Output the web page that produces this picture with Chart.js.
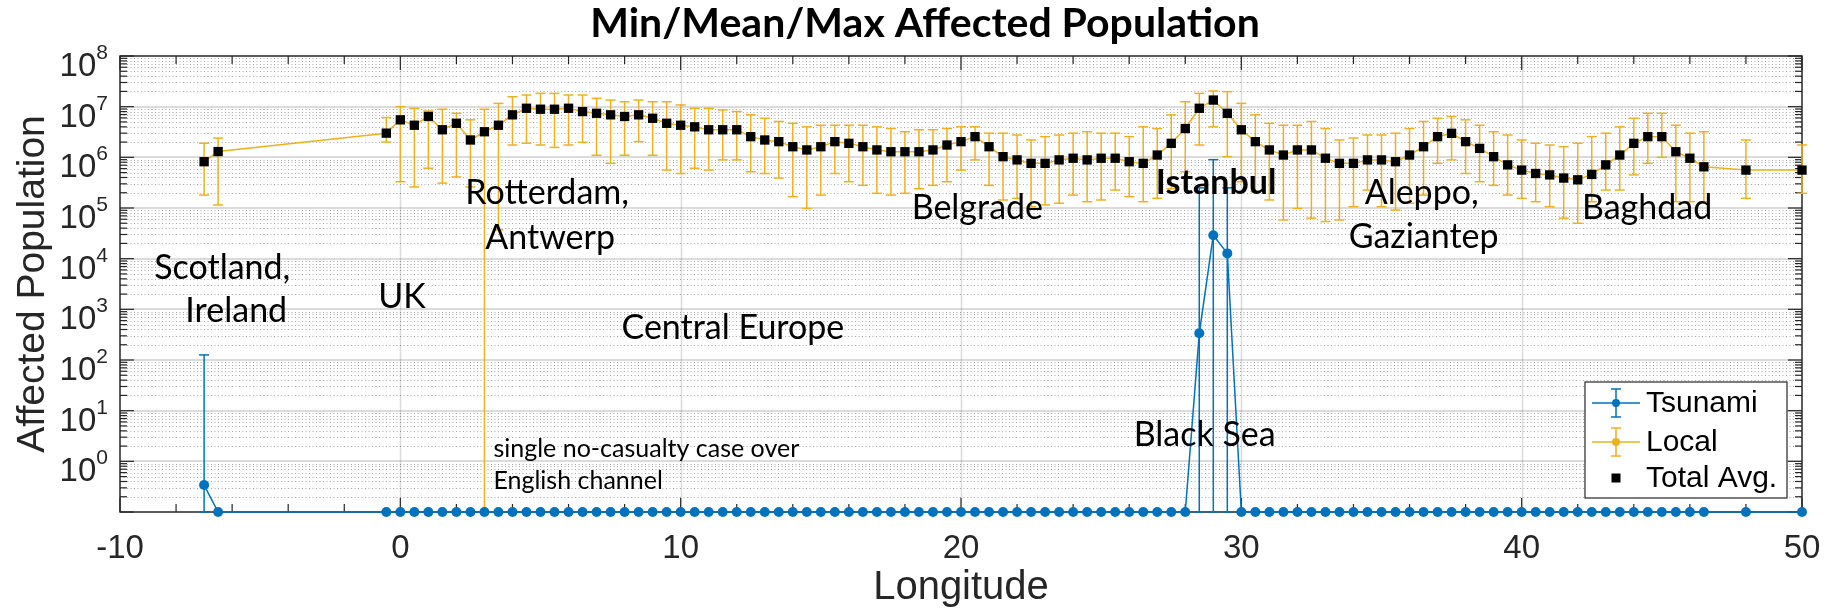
<!DOCTYPE html>
<html>
<head>
<meta charset="utf-8">
<script src="https://cdn.jsdelivr.net/npm/chart.js@4.4.1/dist/chart.umd.min.js"></script>
<style>
html,body{margin:0;padding:0;background:#ffffff;}
#wrap{width:1826px;height:610px;position:relative;}
</style>
</head>
<body>
<div id="wrap"><canvas id="c"></canvas></div>
<script>
// ---------------- DATA ----------------
const longitudes = [-7, -6.5, -0.5, 0, 0.5, 1, 1.5, 2, 2.5, 3, 3.5, 4, 4.5, 5, 5.5, 6, 6.5, 7, 7.5, 8, 8.5, 9, 9.5, 10,
  10.5, 11, 11.5, 12, 12.5, 13, 13.5, 14, 14.5, 15, 15.5, 16, 16.5, 17, 17.5, 18, 18.5, 19, 19.5, 20, 20.5, 21, 21.5, 22,
  22.5, 23, 23.5, 24, 24.5, 25, 25.5, 26, 26.5, 27, 27.5, 28, 28.5, 29, 29.5, 30, 30.5, 31, 31.5, 32, 32.5, 33, 33.5, 34,
  34.5, 35, 35.5, 36, 36.5, 37, 37.5, 38, 38.5, 39, 39.5, 40, 40.5, 41, 41.5, 42, 42.5, 43, 43.5, 44, 44.5, 45, 45.5, 46,
  46.5, 48, 50];

const localMean = [8.2e5, 1.3e6, 3.0e6, 5.5e6, 4.3e6, 6.4e6, 3.5e6, 4.7e6, 2.2e6, 3.2e6, 4.3e6, 6.9e6, 9.3e6, 8.9e6, 8.9e6, 9.3e6, 8.0e6, 7.4e6, 6.9e6, 6.4e6, 6.9e6, 5.9e6, 4.7e6, 4.3e6,
  4.0e6, 3.5e6, 3.5e6, 3.5e6, 2.56e6, 2.2e6, 2.04e6, 1.62e6, 1.4e6, 1.62e6, 2.04e6, 1.89e6, 1.62e6, 1.4e6, 1.29e6, 1.29e6, 1.29e6, 1.4e6, 1.75e6, 2.04e6, 2.56e6, 1.62e6, 1.03e6, 8.9e5,
  7.6e5, 7.6e5, 8.9e5, 9.6e5, 8.9e5, 9.6e5, 9.6e5, 8.2e5, 7.6e5, 1.11e6, 1.89e6, 3.7e6, 9.3e6, 1.35e7, 7.4e6, 3.5e6, 2.04e6, 1.4e6, 1.11e6, 1.4e6, 1.4e6, 9.6e5, 7.6e5, 7.6e5,
  8.9e5, 8.9e5, 8.2e5, 1.11e6, 1.62e6, 2.56e6, 2.98e6, 2.04e6, 1.5e6, 1.03e6, 7.1e5, 5.6e5, 4.8e5, 4.5e5, 3.9e5, 3.6e5, 4.6e5, 7.1e5, 1.11e6, 1.89e6, 2.56e6, 2.56e6, 1.29e6, 9.6e5,
  6.5e5, 5.6e5, 5.6e5];

const localMin = [1.8e5, 1.15e5, 2.0e6, 3.3e5, 2.6e5, 6.1e5, 3.1e5, 4.1e5, 2.6e5, 0, 3.7e4, 1.75e6, 1.9e6, 1.75e6, 1.57e6, 1.75e6, 1.98e6, 1.1e6, 7.6e5, 1.1e6, 2.04e6, 1.1e6, 5.6e5, 4.8e5,
  6.1e5, 5.6e5, 8.9e5, 8.9e5, 5.2e5, 4.8e5, 3.9e5, 1.67e5, 9.8e4, 1.8e5, 4.8e5, 3.3e5, 2.8e5, 1.95e5, 1.8e5, 1.95e5, 2.4e5, 2.8e5, 3.3e5, 5.6e5, 8.9e5, 2.8e5, 1.44e5, 1.55e5,
  1.06e5, 1.15e5, 1.24e5, 1.8e5, 1.33e5, 1.44e5, 2.26e5, 1.67e5, 1.33e5, 1.55e5, 2.4e5, 5.2e5, 1.75e6, 4.0e6, 1.03e6, 3.3e5, 2.1e5, 1.44e5, 5.8e4, 9.8e4, 6.3e4, 5.4e4, 5.8e4, 1.06e5,
  2.26e5, 1.06e5, 9.1e4, 1.24e5, 1.8e5, 7.6e5, 8.9e5, 4.8e5, 3.3e5, 2.8e5, 1.8e5, 1.55e5, 1.33e5, 1.06e5, 6.3e4, 5.0e4, 1.33e5, 2.26e5, 2.26e5, 4.5e5, 7.6e5, 1.0e6, 1.33e5, 1.33e5,
  1.33e5, 1.55e5, 1.95e5];

const localMax = [1.9e6, 2.4e6, 6.1e6, 1.0e7, 9.3e6, 8.2e6, 8.9e6, 7.4e6, 5.5e6, 8.9e6, 1.16e7, 1.57e7, 1.7e7, 1.83e7, 1.83e7, 1.7e7, 1.7e7, 1.46e7, 1.35e7, 1.25e7, 1.35e7, 1.25e7, 1.25e7, 1.08e7,
  9.3e6, 9.3e6, 8.6e6, 8.0e6, 6.9e6, 5.9e6, 5.1e6, 4.7e6, 4.0e6, 4.3e6, 4.3e6, 4.3e6, 4.3e6, 4.0e6, 3.7e6, 3.2e6, 3.5e6, 3.5e6, 3.7e6, 4.0e6, 4.0e6, 3.0e6, 3.0e6, 2.76e6,
  2.2e6, 2.56e6, 2.76e6, 3.0e6, 3.2e6, 3.0e6, 3.0e6, 2.56e6, 4.0e6, 3.7e6, 6.9e6, 1.25e7, 1.83e7, 2.04e7, 1.98e7, 1.16e7, 6.9e6, 4.7e6, 4.3e6, 4.3e6, 5.1e6, 3.7e6, 2.2e6, 2.4e6,
  2.76e6, 2.76e6, 3.0e6, 3.7e6, 5.1e6, 5.9e6, 6.4e6, 5.5e6, 4.3e6, 3.2e6, 2.76e6, 2.2e6, 1.9e6, 1.75e6, 1.62e6, 1.9e6, 2.56e6, 3.0e6, 4.0e6, 5.9e6, 7.4e6, 7.4e6, 4.3e6, 3.0e6,
  3.2e6, 2.2e6, 1.75e6];

const totalAvg = [8.2e5, 1.3e6, 3.0e6, 5.5e6, 4.3e6, 6.4e6, 3.5e6, 4.7e6, 2.2e6, 3.2e6, 4.3e6, 6.9e6, 9.3e6, 8.9e6, 8.9e6, 9.3e6, 8.0e6, 7.4e6, 6.9e6, 6.4e6, 6.9e6, 5.9e6, 4.7e6, 4.3e6,
  4.0e6, 3.5e6, 3.5e6, 3.5e6, 2.56e6, 2.2e6, 2.04e6, 1.62e6, 1.4e6, 1.62e6, 2.04e6, 1.89e6, 1.62e6, 1.4e6, 1.29e6, 1.29e6, 1.29e6, 1.4e6, 1.75e6, 2.04e6, 2.56e6, 1.62e6, 1.03e6, 8.9e5,
  7.6e5, 7.6e5, 8.9e5, 9.6e5, 8.9e5, 9.6e5, 9.6e5, 8.2e5, 7.6e5, 1.11e6, 1.89e6, 3.7e6, 9.3e6, 1.35e7, 7.4e6, 3.5e6, 2.04e6, 1.4e6, 1.11e6, 1.4e6, 1.4e6, 9.6e5, 7.6e5, 7.6e5,
  8.9e5, 8.9e5, 8.2e5, 1.11e6, 1.62e6, 2.56e6, 2.98e6, 2.04e6, 1.5e6, 1.03e6, 7.1e5, 5.6e5, 4.8e5, 4.5e5, 3.9e5, 3.6e5, 4.6e5, 7.1e5, 1.11e6, 1.89e6, 2.56e6, 2.56e6, 1.29e6, 9.6e5,
  6.5e5, 5.6e5, 5.6e5];

const tsunamiMean = [0.34, 0, 0, 0, 0, 0, 0, 0, 0, 0, 0, 0, 0, 0, 0, 0, 0, 0, 0, 0, 0, 0, 0, 0,
  0, 0, 0, 0, 0, 0, 0, 0, 0, 0, 0, 0, 0, 0, 0, 0, 0, 0, 0, 0, 0, 0, 0, 0,
  0, 0, 0, 0, 0, 0, 0, 0, 0, 0, 0, 0, 336, 2.9e4, 1.27e4, 0, 0, 0, 0, 0, 0, 0, 0, 0,
  0, 0, 0, 0, 0, 0, 0, 0, 0, 0, 0, 0, 0, 0, 0, 0, 0, 0, 0, 0, 0, 0, 0, 0,
  0, 0, 0];

const tsunamiMin = [0, 0, 0, 0, 0, 0, 0, 0, 0, 0, 0, 0, 0, 0, 0, 0, 0, 0, 0, 0, 0, 0, 0, 0,
  0, 0, 0, 0, 0, 0, 0, 0, 0, 0, 0, 0, 0, 0, 0, 0, 0, 0, 0, 0, 0, 0, 0, 0,
  0, 0, 0, 0, 0, 0, 0, 0, 0, 0, 0, 0, 0, 0, 0, 0, 0, 0, 0, 0, 0, 0, 0, 0,
  0, 0, 0, 0, 0, 0, 0, 0, 0, 0, 0, 0, 0, 0, 0, 0, 0, 0, 0, 0, 0, 0, 0, 0,
  0, 0, 0];

const tsunamiMax = [126, 0, 0, 0, 0, 0, 0, 0, 0, 0, 0, 0, 0, 0, 0, 0, 0, 0, 0, 0, 0, 0, 0, 0,
  0, 0, 0, 0, 0, 0, 0, 0, 0, 0, 0, 0, 0, 0, 0, 0, 0, 0, 0, 0, 0, 0, 0, 0,
  0, 0, 0, 0, 0, 0, 0, 0, 0, 0, 0, 0, 2.5e5, 9.0e5, 2.5e5, 0, 0, 0, 0, 0, 0, 0, 0, 0,
  0, 0, 0, 0, 0, 0, 0, 0, 0, 0, 0, 0, 0, 0, 0, 0, 0, 0, 0, 0, 0, 0, 0, 0,
  0, 0, 0];

const xTickValues = [-10, 0, 10, 20, 30, 40, 50];
const xTickLabels = ['-10', '0', '10', '20', '30', '40', '50'];
const yTickExponents = [0, 1, 2, 3, 4, 5, 6, 7, 8];
const seriesNames = ['Tsunami', 'Local', 'Total Avg.'];

// text annotations: [text, longitude, log10(value), style]
const annotations = [
  ['Scotland,', -8.78, 3.81, 'n'],
  ['Ireland', -7.67, 2.96, 'n'],
  ['UK', -0.79, 3.24, 'n'],
  ['Rotterdam,', 2.32, 5.29, 'n'],
  ['Antwerp', 3.03, 4.40, 'n'],
  ['Central Europe', 7.89, 2.64, 'n'],
  ['Belgrade', 18.24, 5.0, 'n'],
  ['Istanbul', 26.95, 5.49, 'b'],
  ['Aleppo,', 34.4, 5.29, 'n'],
  ['Gaziantep', 33.83, 4.42, 'n'],
  ['Baghdad', 42.15, 5.0, 'n'],
  ['Black Sea', 26.16, 0.52, 'n'],
  ['single no-casualty case over', 3.32, 0.25, 's'],
  ['English channel', 3.32, -0.38, 's']
];

// ---------------- STYLE ----------------
const Y_MIN = 0.1, Y_MAX = 1e8, X_MIN = -10, X_MAX = 50;
const BLUE = '#0072BD', ORANGE = '#EDB120', AXC = '#262626';
const TICKFONT = '"Liberation Sans", Arial, sans-serif';
const ANNFONT = 'Lato, "Open Sans", sans-serif';

function hline(ctx, x1, x2, y) { ctx.beginPath(); ctx.moveTo(x1, y); ctx.lineTo(x2, y); ctx.stroke(); }
function vline(ctx, x, y1, y2) { ctx.beginPath(); ctx.moveTo(x, y1); ctx.lineTo(x, y2); ctx.stroke(); }

function drawErrorBars(ctx, xs, ys, lo, hi, color) {
  ctx.save();
  ctx.strokeStyle = color; ctx.lineWidth = 1.5;
  for (let i = 0; i < lo.length; i++) {
    if (!(hi[i] > lo[i])) continue;
    const px = xs.getPixelForValue(longitudes[i]);
    const pLo = ys.getPixelForValue(Math.max(lo[i], Y_MIN));
    const pHi = ys.getPixelForValue(Math.min(hi[i], Y_MAX));
    vline(ctx, px, pLo, pHi);
    hline(ctx, px - 5, px + 5, pLo);
    hline(ctx, px - 5, px + 5, pHi);
  }
  ctx.restore();
}

const matlabPlugin = {
  id: 'matlabAxes',
  beforeDatasetsDraw(chart) {
    const { ctx, chartArea: a, scales: { x, y } } = chart;
    ctx.save();
    ctx.beginPath(); ctx.rect(a.left, a.top, a.right - a.left, a.bottom - a.top); ctx.clip();
    // minor dotted grid
    ctx.lineWidth = 1; ctx.strokeStyle = 'rgba(0,0,0,0.34)'; ctx.setLineDash([1, 2.5]);
    for (let e = -1; e < 8; e++) {
      for (let m = 2; m <= 9; m++) {
        const py = Math.round(y.getPixelForValue(m * Math.pow(10, e))) + 0.5;
        hline(ctx, a.left, a.right, py);
      }
    }
    ctx.setLineDash([]);
    // major grid
    ctx.strokeStyle = 'rgba(0,0,0,0.14)'; ctx.lineWidth = 2;
    for (let e = 0; e < 8; e++) {
      const py = Math.round(y.getPixelForValue(Math.pow(10, e)));
      hline(ctx, a.left, a.right, py);
    }
    ctx.lineWidth = 1.5;
    for (const v of xTickValues) {
      if (v === X_MIN || v === X_MAX) continue;
      vline(ctx, Math.round(x.getPixelForValue(v)) + 0.5, a.top, a.bottom);
    }
    ctx.restore();

    // axes box and inward ticks
    ctx.save();
    ctx.strokeStyle = AXC; ctx.lineWidth = 1.5;
    ctx.strokeRect(a.left, a.top, a.right - a.left, a.bottom - a.top);
    ctx.lineWidth = 1.2;
    for (let v = X_MIN; v <= X_MAX; v += 2) {
      const px = x.getPixelForValue(v);
      const len = (v % 10 === 0) ? 14 : 8;
      vline(ctx, px, a.bottom, a.bottom - len);
      vline(ctx, px, a.top, a.top + len);
    }
    for (let e = -1; e <= 8; e++) {
      const py = y.getPixelForValue(Math.pow(10, e));
      hline(ctx, a.left, a.left + 14, py);
      hline(ctx, a.right, a.right - 14, py);
      if (e < 8) {
        for (let m = 2; m <= 9; m++) {
          const pm = y.getPixelForValue(m * Math.pow(10, e));
          hline(ctx, a.left, a.left + 7, pm);
          hline(ctx, a.right, a.right - 7, pm);
        }
      }
    }
    ctx.restore();

    // error bars
    drawErrorBars(ctx, x, y, tsunamiMin, tsunamiMax, BLUE);
    drawErrorBars(ctx, x, y, localMin, localMax, ORANGE);
  },
  afterDraw(chart) {
    const { ctx, chartArea: a, scales: { x, y } } = chart;
    ctx.save();
    ctx.fillStyle = AXC;
    // x tick labels
    ctx.font = '33px ' + TICKFONT; ctx.textAlign = 'center'; ctx.textBaseline = 'alphabetic';
    xTickValues.forEach((v, i) => ctx.fillText(xTickLabels[i], x.getPixelForValue(v), a.bottom + 46));
    // y tick labels 10^n
    yTickExponents.forEach(e => {
      const py = y.getPixelForValue(Math.pow(10, e));
      const right = a.left - 12;
      ctx.font = '21px ' + TICKFONT; ctx.textAlign = 'right';
      const ew = ctx.measureText(String(e)).width;
      ctx.fillText(String(e), right, py + 3);
      ctx.font = '33px ' + TICKFONT;
      ctx.fillText('10', right - ew, py + 20);
    });
    // axis titles
    ctx.font = '40px ' + TICKFONT; ctx.textAlign = 'center'; ctx.textBaseline = 'middle';
    ctx.fillText('Longitude', (a.left + a.right) / 2, 588);
    ctx.font = '39px ' + TICKFONT;
    ctx.save();
    ctx.translate(33, (a.top + a.bottom) / 2); ctx.rotate(-Math.PI / 2);
    ctx.fillText('Affected Population', 0, 0);
    ctx.restore();
    // title
    ctx.fillStyle = '#000';
    ctx.font = 'bold 41px ' + ANNFONT; ctx.textAlign = 'center'; ctx.textBaseline = 'alphabetic';
    ctx.fillText('Min/Mean/Max Affected Population', 925, 37);

    // annotations
    ctx.textAlign = 'left'; ctx.textBaseline = 'middle';
    annotations.forEach(([t, lon, lg, st]) => {
      ctx.font = (st === 'b' ? 'bold 34px ' : st === 's' ? '25px ' : '34px ') + ANNFONT;
      ctx.fillText(t, x.getPixelForValue(lon), y.getPixelForValue(Math.pow(10, lg)));
    });

    // legend
    const L = { x: 1585, y: 382, w: 202, h: 116 };
    ctx.fillStyle = '#ffffff'; ctx.fillRect(L.x, L.y, L.w, L.h);
    ctx.strokeStyle = AXC; ctx.lineWidth = 1.2; ctx.strokeRect(L.x, L.y, L.w, L.h);
    const rows = [403, 442, 478];
    const cols = [BLUE, ORANGE, '#000'];
    rows.forEach((ry, i) => {
      const cx = 1616;
      if (i < 2) {
        ctx.strokeStyle = cols[i]; ctx.lineWidth = 1.5;
        hline(ctx, 1592, 1640, ry);
        vline(ctx, cx, ry - 14, ry + 14);
        hline(ctx, cx - 5, cx + 5, ry - 14);
        hline(ctx, cx - 5, cx + 5, ry + 14);
        ctx.fillStyle = cols[i];
        ctx.beginPath(); ctx.arc(cx, ry, 4, 0, Math.PI * 2); ctx.fill();
      } else {
        ctx.fillStyle = '#000'; ctx.fillRect(cx - 4.5, ry - 4.5, 9, 9);
      }
      ctx.fillStyle = '#000'; ctx.font = '30px ' + TICKFONT; ctx.textAlign = 'left'; ctx.textBaseline = 'middle';
      ctx.fillText(seriesNames[i], 1646, ry + 1);
    });
    ctx.restore();
  }
};

new Chart(document.getElementById('c'), {
  type: 'scatter',
  data: {
    datasets: [
      {
        label: seriesNames[0],
        data: longitudes.map((lon, i) => ({ x: lon, y: Math.max(tsunamiMean[i], Y_MIN) })),
        showLine: true, borderColor: BLUE, backgroundColor: BLUE,
        pointRadius: 5, pointHoverRadius: 5, borderWidth: 1.5, pointBorderWidth: 0,
        order: 3, clip: 12
      },
      {
        label: seriesNames[1],
        data: longitudes.map((lon, i) => ({ x: lon, y: localMean[i] })),
        showLine: true, borderColor: ORANGE, backgroundColor: ORANGE,
        pointRadius: 3, pointHoverRadius: 3, borderWidth: 1.5, pointBorderWidth: 0,
        order: 2, clip: 12
      },
      {
        label: seriesNames[2],
        data: longitudes.map((lon, i) => ({ x: lon, y: totalAvg[i] })),
        showLine: false, pointStyle: 'rect', backgroundColor: '#000', borderColor: '#000',
        pointRadius: 6.6, pointHoverRadius: 6.6, pointBorderWidth: 0,
        order: 1, clip: 12
      }
    ]
  },
  options: {
    responsive: true, maintainAspectRatio: false, animation: false, events: [],
    layout: { padding: { left: 120, right: 24, top: 56, bottom: 98 } },
    scales: {
      x: { type: 'linear', min: X_MIN, max: X_MAX, display: false },
      y: { type: 'logarithmic', min: Y_MIN, max: Y_MAX, display: false }
    },
    plugins: { legend: { display: false }, tooltip: { enabled: false }, title: { display: false } }
  },
  plugins: [matlabPlugin]
});
</script>
</body>
</html>
